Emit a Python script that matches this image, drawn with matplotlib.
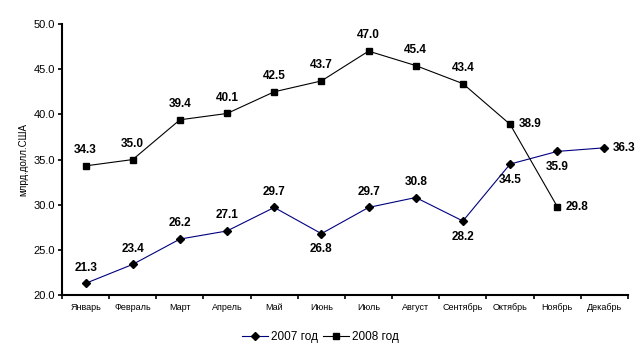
import numpy as np
import matplotlib
matplotlib.use("Agg")
import matplotlib.pyplot as plt

plt.rcParams['font.family'] = ['Liberation Sans', 'DejaVu Sans']

months = ["Январь", "Февраль", "Март", "Апрель", "Май", "Июнь", "Июль",
          "Август", "Сентябрь", "Октябрь", "Ноябрь", "Декабрь"]
y2007 = [21.3, 23.4, 26.2, 27.1, 29.7, 26.8, 29.7, 30.8, 28.2, 34.5, 35.9, 36.3]
y2008 = [34.3, 35.0, 39.4, 40.1, 42.5, 43.7, 47.0, 45.4, 43.4, 38.9, 29.8]

# label placement: 'a' above, 'b' below, 'r' right
pos2007 = ['a', 'a', 'a', 'a', 'a', 'b', 'a', 'a', 'b', 'b', 'b', 'r']
pos2008 = ['a', 'a', 'a', 'a', 'a', 'a', 'a', 'a', 'a', 'r', 'r']

fig = plt.figure(figsize=(6.41, 3.53), dpi=100)
ax = fig.add_axes([0.0967, 0.164, 0.883, 0.768])

x = np.arange(len(months))
ax.plot(x, y2007, color='#000080', lw=0.8, marker='D', ms=4.5,
        mfc='black', mec='black', label='2007 год')
ax.plot(np.arange(len(y2008)), y2008, color='black', lw=0.8, marker='s', ms=5,
        mfc='black', mec='black', label='2008 год')

def put_labels(xs, ys, poss):
    for xi, yi, p in zip(xs, ys, poss):
        if p == 'a':
            ax.annotate(f"{yi:.1f}", (xi, yi), xytext=(0, 7), textcoords='offset points',
                        ha='center', va='bottom', fontsize=8.5, fontweight='bold')
        elif p == 'b':
            ax.annotate(f"{yi:.1f}", (xi, yi), xytext=(0, -7), textcoords='offset points',
                        ha='center', va='top', fontsize=8.5, fontweight='bold')
        else:
            ax.annotate(f"{yi:.1f}", (xi, yi), xytext=(6, 0), textcoords='offset points',
                        ha='left', va='center', fontsize=8.5, fontweight='bold')

put_labels(x, y2007, pos2007)
put_labels(np.arange(len(y2008)), y2008, pos2008)

ax.set_xlim(-0.5, 11.5)
ax.set_ylim(20, 50)
ax.set_yticks(np.arange(20, 50.1, 5))
ax.set_yticklabels([f"{v:.1f}" for v in np.arange(20, 50.1, 5)], fontsize=8)
ax.set_xticks(x)
ax.set_xticklabels(months, fontsize=6.5)
ax.set_xticks(np.arange(-0.5, 12, 1), minor=True)
ax.tick_params(axis='x', which='major', length=0, pad=6)
ax.tick_params(axis='x', which='minor', length=3, width=1.2, direction='out')
ax.tick_params(axis='y', length=3, width=1.2, direction='out', pad=2)

for s in ['top', 'right']:
    ax.spines[s].set_visible(False)
ax.spines['left'].set_linewidth(1.5)
ax.spines['bottom'].set_linewidth(1.5)

ax.set_ylabel("млрд.долл.США", fontsize=7, labelpad=4)

fig.legend(loc='center', bbox_to_anchor=(0.5, 0.045), ncol=2, frameon=False,
           fontsize=8.5, handlelength=2.2, columnspacing=0.4, handletextpad=0.3)

fig.savefig("out.png", dpi=100)
